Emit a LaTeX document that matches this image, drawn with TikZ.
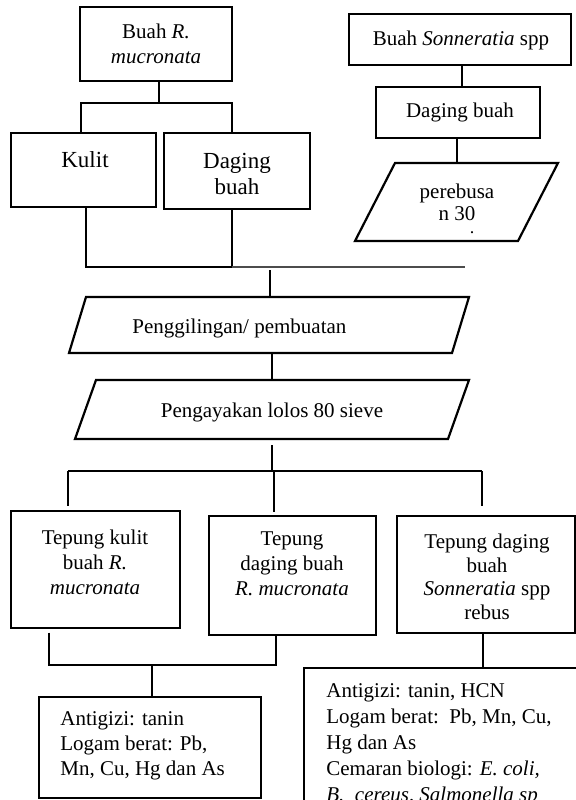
\documentclass[tikz,border=0pt]{standalone}
\usepackage{fontspec}
\setmainfont{Liberation Serif}
\usetikzlibrary{fit,calc}
\begin{document}
\begin{tikzpicture}[x=0.5pt,y=-0.5pt,
  thinln/.style={line width=0.55pt},
  thickln/.style={line width=1.1pt},
  box/.style={draw, line width=0.55pt, inner sep=0pt},
  boxthick/.style={draw, line width=1.1pt, inner sep=0pt},
  txt/.style={font=\fontsize{10.5}{12.5}\selectfont, inner sep=0pt, align=center},
  bigtxt/.style={font=\fontsize{11.5}{13}\selectfont, inner sep=0pt, align=center},
  lefttxt/.style={font=\fontsize{10.5}{12.5}\selectfont, inner sep=0pt, align=left},
]
\useasboundingbox (0,0) rectangle (576,800);
\clip (0,0) rectangle (576,800);

% ---------- boxes ----------
\node[box, fit={(80,7) (232,81)}] (br) {};
\node[box, fit={(11,133) (156,207)}] (kul) {};
\node[boxthick, fit={(164,133) (310,209)}] (dag) {};
\node[box, fit={(349,14) (571,65)}] (son) {};
\node[box, fit={(376,87) (540,138)}] (dbr) {};
\node[box, fit={(11,511) (180,628)}] (t1) {};
\node[box, fit={(209,516) (376,635)}] (t2) {};
\node[box, fit={(397,516) (575,633)}] (t3) {};
\node[box, fit={(39,697) (261,798)}] (an1) {};
\node[box, fit={(304,668) (620,860)}] (an2) {};

% ---------- parallelograms ----------
\draw[thickln] (395,163) -- (558,163) -- (518,241) -- (355,241) -- cycle;
\draw[thickln] (86,297) -- (469,297) -- (452,353) -- (69,353) -- cycle;
\draw[thickln] (96,380) -- (469,380) -- (448,439) -- (75,439) -- cycle;
\coordinate (prt) at (457,163);
\coordinate (p1t) at (270,297);
\coordinate (p1b) at (272,353);
\coordinate (p2t) at (272,380);
\coordinate (p2b) at (272,445);

% ---------- texts ----------
\node[txt] (tbr) at (156,44) {Buah \textit{R.}\\\textit{mucronata}};
\node[bigtxt, anchor=base] (tkul) at (85,167) {Kulit};
\node[bigtxt] (tdag) at (237,174) {Daging\\buah};
\node[txt, anchor=base] (tson) at (461,45) {Buah \textit{Sonneratia} spp};
\node[txt, anchor=base] (tdbr) at (460,117) {Daging buah};
\node[txt, font=\fontsize{10.5}{11}\selectfont] (tpr) at (457,202) {perebusa\\n 30};
\node[txt, anchor=base, font=\fontsize{9}{9}\selectfont, text height=1pt, text depth=0pt] (tdot) at (472,233) {.};
\node[txt, anchor=base west] (tp1) at (132,333) {Penggilingan/ pembuatan};
\node[txt, anchor=base] (tp2) at (272,417) {Pengayakan lolos 80 sieve};
\node[txt] (tt1) at (95,562) {Tepung kulit\\buah \textit{R.}\\\textit{mucronata}};
\node[txt] (tt2) at (292,564) {Tepung\\daging buah\\\textit{R. mucronata}};
\node[txt, font=\fontsize{10.5}{11.75}\selectfont] (tt3) at (487,577) {Tepung daging\\buah\\\textit{Sonneratia} spp\\rebus};
\node[lefttxt, anchor=west] (tan1) at (60,746) {Antigizi: tanin\\Logam berat: Pb,\\Mn, Cu, Hg dan As};
\node[lefttxt, font=\fontsize{10.5}{13}\selectfont, anchor=west] (tan2) at (326,745)
  {Antigizi: tanin, HCN\\Logam berat:\ \ Pb, Mn, Cu,\\Hg dan As\\Cemaran biologi: \textit{E. coli,}\\\textit{B.\ \ cereus, Salmonella sp}};

% ---------- connectors ----------
\coordinate (a1) at (159,103);
\coordinate (a2) at (81,103);
\coordinate (a3) at (232,103);
\draw[thinln] (br.south -| a1) -- (a1);
\draw[thinln] (kul.north -| a2) -- (a2) -- (a3) -- (dag.north -| a3);

\coordinate (b1) at (86,267);
\coordinate (b2) at (232,267);
\coordinate (b3) at (465,267);
\coordinate (b4) at (270,270);
\draw[thickln] (kul.south -| b1) -- (b1) -- (b2);
\draw[thickln] (dag.south -| b2) -- (b2);
\draw[thinln, black!70] (b2) -- (b3);
\draw[thinln] (b4) -- (p1t);

\coordinate (s1) at (462,0);
\draw[thinln] (son.south -| s1) -- (dbr.north -| s1);
\draw[thinln] (dbr.south -| prt) -- (prt);

\draw[thinln] (p1b) -- (p2t);

\coordinate (c0) at (272,471);
\coordinate (c1) at (68,471);
\coordinate (c2) at (274,471);
\coordinate (c3) at (482,471);
\draw[thinln] (p2b) -- (c0);
\draw[thinln] (c1) -- (c3);
\draw[thinln] (c1) -- ($(t1.north -| c1)+(0,-4)$);
\draw[thinln] (c2) -- ($(t2.north -| c2)+(0,-3)$);
\draw[thinln] (c3) -- ($(t3.north -| c3)+(0,-9)$);

\coordinate (d1) at (49,665);
\coordinate (d2) at (276,665);
\coordinate (d3) at (152,665);
\draw[thickln] ($(t1.south -| d1)+(0,4)$) -- (d1) -- (d2) -- (t2.south -| d2);
\draw[thinln] (d3) -- (an1.north -| d3);

\coordinate (e1) at (483,668);
\draw[thinln] (t3.south -| e1) -- (an2.north -| e1);
\end{tikzpicture}
\end{document}
